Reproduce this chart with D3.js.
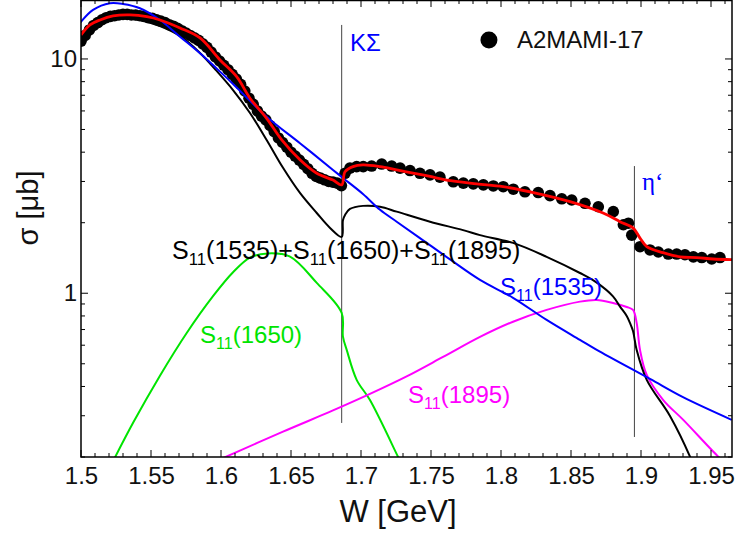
<!DOCTYPE html>
<html>
<head>
<meta charset="utf-8">
<style>
    body { margin: 0; background: #fff; }
    svg text { font-family: "Liberation Sans", Arial, sans-serif; }
    .tick text { font-size: 24px; fill: #111; }
</style>
</head>
<body>
<svg id="chart" width="739" height="533"></svg>
<script src="https://cdnjs.cloudflare.com/ajax/libs/d3/7.8.5/d3.min.js"></script>
<script>
// ---- data (W in GeV, sigma in microbarn) ----
const dataW = [1.500,1.503,1.506,1.509,1.512,1.515,1.518,1.521,1.524,1.527,1.530,1.533,1.536,1.539,1.542,1.545,1.548,1.551,1.554,1.557,
    1.560,1.563,1.566,1.569,1.572,1.575,1.578,1.581,1.584,1.587,1.590,1.593,1.596,1.599,1.602,1.605,1.608,1.611,1.614,1.617,
    1.620,1.623,1.626,1.629,1.632,1.635,1.638,1.641,1.644,1.647,1.650,1.653,1.656,1.659,1.662,1.665,1.668,1.671,1.674,1.677,
    1.680,1.683,1.686,
    1.6886,1.6921,1.6969,1.7016,1.7076,1.7148,1.7219,1.7279,1.735,1.7421,1.7493,1.7564,1.7659,1.7731,1.7802,1.7874,1.7945,
    1.8016,1.8088,1.8171,1.8266,1.835,1.8434,1.8505,1.86,1.8695,1.8802,1.8874,1.891,1.8934,1.8993,1.9064,1.9124,1.9195,
    1.9255,1.9314,1.9374,1.9434,1.9505,1.9564]
const dataSigma = [11.9,12.6,13.3,13.9,14.3,14.7,15.0,15.2,15.3,15.4,15.5,15.5,15.4,15.4,15.3,15.2,15.0,14.9,14.7,14.5,
    14.3,14.0,13.8,13.5,13.2,12.9,12.6,12.3,12.0,11.6,11.2,10.7,10.2,9.8,9.4,9.0,8.6,8.2,7.8,7.3,
    6.8,6.4,6.0,5.7,5.5,5.2,4.9,4.6,4.4,4.2,4.0,3.85,3.7,3.55,3.4,3.25,3.15,3.1,3.05,3.0,
    2.98,2.95,2.88,
    3.25,3.42,3.47,3.47,3.49,3.56,3.49,3.42,3.34,3.25,3.20,3.13,2.99,2.95,2.93,2.90,2.87,
    2.85,2.78,2.71,2.69,2.61,2.53,2.50,2.42,2.34,2.23,1.96,1.99,1.77,1.58,1.53,1.50,1.47,
    1.47,1.46,1.43,1.42,1.40,1.42]

// full fit (red)
const fitW = [1.5,1.5064,1.5136,1.5229,1.535,1.5471,1.5564,1.5707,1.585,1.5993,1.6112,1.6207,1.6326,1.6434,1.6564,1.6684,1.68,1.6862,
    1.6886,1.6943,1.7014,1.7136,1.7255,1.7371,1.7493,1.7612,1.7826,1.8014,1.8255,1.8493,1.8729,1.885,1.8943,1.8993,1.9041,
    1.9157,1.9279,1.9398,1.9514,1.9657]
const fitSigma = [12.66,13.97,14.67,15.26,15.41,15.15,14.67,13.56,12.29,9.90,8.40,6.80,5.58,4.51,3.71,3.25,3.04,2.90,
    3.30,3.47,3.53,3.47,3.36,3.26,3.15,3.04,2.93,2.85,2.67,2.46,2.20,2.02,1.90,1.72,1.58,
    1.49,1.43,1.42,1.40,1.39]

// S11(1535)+S11(1650)+S11(1895) (black)
const sumW = [1.5,1.5136,1.5279,1.5421,1.5564,1.5707,1.585,1.5969,1.6086,1.6207,1.6326,1.6443,1.6564,1.6684,1.6779,1.6862,
    1.6871,1.6886,1.6921,1.7014,1.7136,1.7255,1.7493,1.7729,1.785,1.8086,1.8326,1.8564,1.8684,1.88,1.885,1.8898,1.8921,
    1.8943,1.8969,1.9041,1.9207,1.935,1.9386]
const sumSigma = [12.91,14.38,14.96,14.67,13.83,12.54,10.61,8.89,7.37,5.88,4.51,3.43,2.68,2.20,1.90,1.74,
    2.05,2.16,2.29,2.36,2.34,2.23,2.02,1.86,1.77,1.64,1.43,1.22,1.11,0.97,0.877,0.80,0.747,
    0.69,0.573,0.427,0.2995,0.2007,0.176]

// S11(1535) (blue)
const s1535W = [1.4993,1.5086,1.5207,1.53,1.5421,1.5564,1.5707,1.585,1.5993,1.6086,1.6326,1.6564,1.68,1.6871,1.7014,1.7136,
    1.7255,1.7421,1.7636,1.785,1.8086,1.8326,1.8564,1.8684,1.9064,1.93,1.9648]
const s1535Sigma = [14.24,16.19,17.29,17.17,16.46,14.67,12.45,10.57,8.83,7.82,5.67,4.37,3.36,3.105,2.653,2.27,
    2.02,1.72,1.394,1.14,0.956,0.769,0.632,0.573,0.4307,0.360,0.288]

// S11(1650) (green)
const s1650W = [1.5229,1.5374,1.5564,1.5755,1.5943,1.6086,1.6207,1.6336,1.6493,1.6684,1.6862,1.6871,1.6898,1.6969,1.7064,1.7264,1.7293]
const s1650Sigma = [0.192,0.2812,0.4448,0.677,0.972,1.23,1.42,1.479,1.433,1.107,0.824,0.653,0.573,0.427,0.350,0.2007,0.185]

// S11(1895) (magenta)
const s1895W = [1.6007,1.6443,1.68,1.7064,1.7326,1.7586,1.785,1.8086,1.8326,1.8564,1.8684,1.88,1.8898,1.8943,1.8969,1.8993,
    1.9041,1.9159,1.9302,1.9552,1.96]
const s1895Sigma = [0.197,0.2566,0.316,0.3717,0.4415,0.5346,0.651,0.756,0.849,0.921,0.936,0.909,0.874,0.849,0.747,0.573,
    0.448,0.350,0.288,0.2007,0.19]

// thresholds
const thrKSigma = 1.6862
const thrEtaP = 1.8953

const xMajor = [1.5,1.55,1.6,1.65,1.7,1.75,1.8,1.85,1.9,1.95]
const yMajor = [1,10]

// ---- layout ----
const pLeft = 81, pRight = 732, pTop = 0, pBottom = 457
const svg = d3.select("#chart")

const xScale = d3.scaleLinear().domain([1.5, 1.965]).range([pLeft, pRight])
const yScale = d3.scaleLog().domain([0.2, 17.85]).range([pBottom, pTop])

svg.append("defs").append("clipPath").attr("id", "plotclip")
    .append("rect").attr("x", pLeft).attr("y", pTop).attr("width", pRight - pLeft).attr("height", pBottom - pTop)

// minor ticks
let xMinor = d3.range(150, 197).map(d => d / 100).filter(d => !xMajor.some(m => Math.abs(m - d) < 1e-6))
let yMinor = [0.2,0.3,0.4,0.5,0.6,0.7,0.8,0.9,2,3,4,5,6,7,8,9]

// thresholds (grey lines)
let body = svg.append("g").attr("clip-path", "url(#plotclip)")
body.append("line")
    .attr("x1", xScale(thrKSigma)).attr("x2", xScale(thrKSigma))
    .attr("y1", yScale(13.97)).attr("y2", yScale(0.2795))
    .attr("stroke", "#444").attr("stroke-width", 1)
body.append("line")
    .attr("x1", xScale(thrEtaP)).attr("x2", xScale(thrEtaP))
    .attr("y1", yScale(3.49)).attr("y2", yScale(0.2435))
    .attr("stroke", "#444").attr("stroke-width", 1)

// data points
let points = dataW.map((w, i) => ({w: w, s: dataSigma[i]}))
body.selectAll("circle.pt")
    .data(points)
    .enter()
    .append("circle")
    .attr("class", "pt")
    .attr("cx", d => xScale(d.w))
    .attr("cy", d => yScale(d.s))
    .attr("r", 5.8)
    .attr("fill", "#000")

function drawCurve(ws, ss, color, width) {
    let pts = ws.map((w, i) => [w, ss[i]])
    let line = d3.line()
        .curve(d3.curveCatmullRom.alpha(0.5))
        .x(d => xScale(d[0]))
        .y(d => yScale(d[1]))
    body.append("path")
        .datum(pts)
        .attr("d", line)
        .attr("fill", "none")
        .attr("stroke", color)
        .attr("stroke-width", width)
        .attr("stroke-linejoin", "round")
}

drawCurve(s1650W, s1650Sigma, "#00e400", 2)
drawCurve(s1895W, s1895Sigma, "#ff00ff", 2)
drawCurve(sumW, sumSigma, "#000", 2)
drawCurve(s1535W, s1535Sigma, "#0000ff", 2)
drawCurve(fitW, fitSigma, "#ff0000", 2.8)

// ---- frame and ticks ----
let frame = svg.append("g")
function ticksAlongX(vals, len) {
    vals.forEach(v => {
        frame.append("line").attr("x1", xScale(v)).attr("x2", xScale(v))
            .attr("y1", pBottom).attr("y2", pBottom - len).attr("stroke", "#000")
        frame.append("line").attr("x1", xScale(v)).attr("x2", xScale(v))
            .attr("y1", pTop).attr("y2", pTop + len).attr("stroke", "#000")
    })
}
function ticksAlongY(vals, len) {
    vals.forEach(v => {
        frame.append("line").attr("x1", pLeft).attr("x2", pLeft + len)
            .attr("y1", yScale(v)).attr("y2", yScale(v)).attr("stroke", "#000")
        frame.append("line").attr("x1", pRight).attr("x2", pRight - len)
            .attr("y1", yScale(v)).attr("y2", yScale(v)).attr("stroke", "#000")
    })
}
ticksAlongX(xMajor, 7)
ticksAlongX(xMinor, 4)
ticksAlongY(yMajor, 7)
ticksAlongY(yMinor, 4)

frame.append("rect").attr("x", pLeft).attr("y", pTop + 0.5)
    .attr("width", pRight - pLeft).attr("height", pBottom - pTop - 0.5)
    .attr("fill", "none").attr("stroke", "#000").attr("stroke-width", 1.5)

// tick labels via axes (tick lines hidden)
svg.append("g")
    .attr("transform", "translate(0," + pBottom + ")")
    .call(d3.axisBottom(xScale).tickValues(xMajor).tickSize(0).tickPadding(10)
        .tickFormat(d => String(+d.toFixed(2))))
    .call(g => g.select(".domain").remove())

svg.append("g")
    .attr("transform", "translate(" + pLeft + ",0)")
    .call(d3.axisLeft(yScale).tickValues(yMajor).tickSize(0).tickPadding(4)
        .tickFormat(d3.format("d")))
    .call(g => g.select(".domain").remove())

// axis titles
svg.append("text")
    .attr("x", 398).attr("y", 522)
    .attr("text-anchor", "middle")
    .style("font-size", "31px").attr("fill", "#111")
    .text("W [GeV]")

svg.append("text")
    .attr("transform", "translate(38,208) rotate(-90)")
    .attr("text-anchor", "middle")
    .style("font-size", "29px").attr("fill", "#111")
    .text("σ [μb]")

// ---- annotations ----
function sLabel(w, s, parts, color, fs) {
    let t = svg.append("text")
        .attr("x", xScale(w)).attr("y", yScale(s))
        .attr("fill", color).style("font-size", fs + "px")
    parts.forEach(p => {
        t.append("tspan").text("S")
        t.append("tspan").attr("dy", 6).style("font-size", (fs * 0.67) + "px").text("11")
        t.append("tspan").attr("dy", -6).text(p)
    })
}
sLabel(1.565, 1.40, ["(1535)+", "(1650)+", "(1895)"], "#000", 25)
sLabel(1.585, 0.614, ["(1650)"], "#00e400", 24)
sLabel(1.7993, 0.983, ["(1535)"], "#0000ff", 24)
sLabel(1.7336, 0.340, ["(1895)"], "#ff00ff", 24)

svg.append("text")
    .attr("x", xScale(1.6921)).attr("y", yScale(10.82))
    .attr("fill", "#0000ff").style("font-size", "24px")
    .text("KΣ")

svg.append("text")
    .attr("x", xScale(1.9007)).attr("y", yScale(2.76))
    .attr("fill", "#0000ff").style("font-size", "25px")
    .style("font-family", "'Liberation Serif', serif")
    .text("η‘")

// legend
svg.append("circle")
    .attr("cx", xScale(1.7914)).attr("cy", yScale(12.05))
    .attr("r", 8.5).attr("fill", "#000")
svg.append("text")
    .attr("x", xScale(1.8114)).attr("y", yScale(11.14))
    .attr("fill", "#111").style("font-size", "24px")
    .text("A2MAMI-17")
</script>
</body>
</html>
